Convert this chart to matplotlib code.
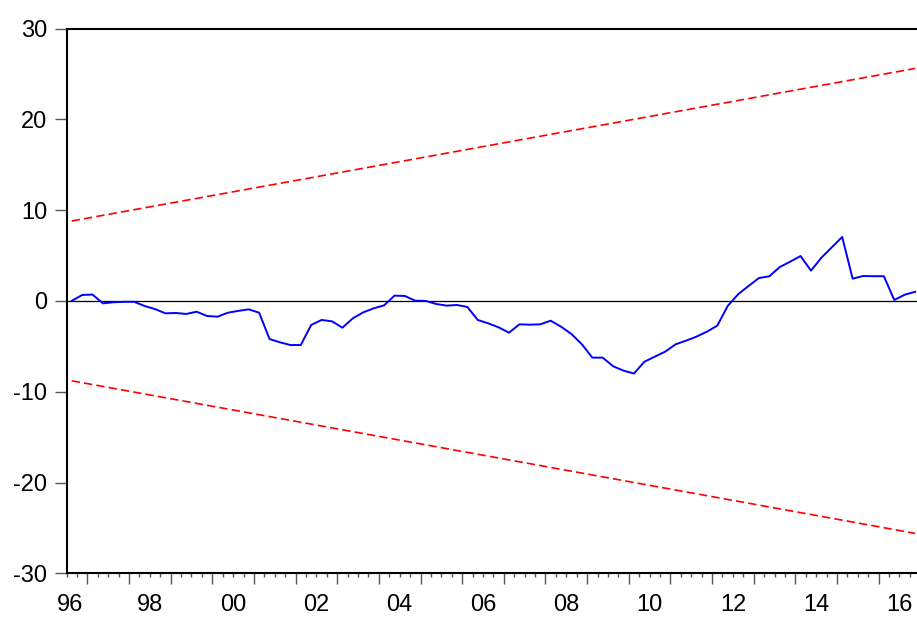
import matplotlib
matplotlib.use("Agg")
import matplotlib.pyplot as plt
import numpy as np
import pandas as pd

plt.rcParams["font.family"] = ["Liberation Sans", "DejaVu Sans"]
plt.rcParams["axes.unicode_minus"] = False

# Quarterly sample of the recursive CUSUM statistic
start_quarter = "1996Q3"
end_quarter = "2016Q4"
cusum = [
    0.0, 0.65, 0.7, -0.27, -0.15, -0.1, -0.1, -0.56, -0.9, -1.37,
    -1.33, -1.44, -1.19, -1.66, -1.74, -1.3, -1.1, -0.93, -1.3, -4.2,
    -4.56, -4.86, -4.86, -2.65, -2.1, -2.25, -2.95, -1.92, -1.26, -0.82,
    -0.49, 0.58, 0.54, 0.02, 0.0, -0.34, -0.52, -0.45, -0.67, -2.1,
    -2.47, -2.91, -3.5, -2.58, -2.62, -2.58, -2.18, -2.84, -3.65, -4.78,
    -6.25, -6.25, -7.2, -7.68, -8.0, -6.7, -6.14, -5.59, -4.78, -4.38,
    -3.94, -3.39, -2.73, -0.56, 0.73, 1.64, 2.52, 2.71, 3.73, 4.32,
    4.94, 3.33, 4.76, 5.9, 7.04, 2.45, 2.74, 2.72, 2.72, 0.1,
    0.68, 1.0,
]
# 5% significance bounds at the first and last observation
upper_bound = [8.8, 25.6]
lower_bound = [-8.8, -25.6]

y_ticks = [-30, -20, -10, 0, 10, 20, 30]
year_labels = ["96", "98", "00", "02", "04", "06", "08", "10", "12", "14", "16"]

periods = pd.period_range(start_quarter, end_quarter, freq="Q")
x = np.array([p.year + (p.quarter - 1) / 4 + 0.125 for p in periods])
x0 = periods[0].year + (periods[0].quarter - 1) / 4
x1 = periods[-1].year + periods[-1].quarter / 4

fig = plt.figure(figsize=(9.17, 6.17), dpi=100)
ax = fig.add_axes([66.5 / 917, 43.7 / 617, 853.8 / 917, 544.8 / 617])

ax.axhline(0, color="black", lw=0.9, zorder=1)
ax.plot(x, cusum, color="#0000ff", lw=1.4, zorder=3)
ends = [x[0], x[-1]]
ax.plot(ends, upper_bound, color="#ff0000", lw=1.2, dashes=(5, 2.5), zorder=2)
ax.plot(ends, lower_bound, color="#ff0000", lw=1.2, dashes=(5, 2.5), zorder=2)

ax.set_xlim(x0, x1)
ax.set_ylim(-30, 30)

for side in ["left", "top", "bottom"]:
    ax.spines[side].set_linewidth(1.5)
    ax.spines[side].set_color("black")
ax.spines["right"].set_visible(False)

ax.set_yticks(y_ticks)
ax.set_yticklabels([str(v) for v in y_ticks])
ax.tick_params(axis="y", direction="out", length=9, width=1.0, color="#555555",
               labelsize=17, pad=5)

# year boundaries as long ticks, quarters as short ticks
ax.set_xticks(np.arange(1997, 2017, 1))
ax.set_xticks(np.arange(x0, x1 + 0.01, 0.25), minor=True)
ax.tick_params(axis="x", which="major", direction="out", length=8, width=1.0,
               color="#555555", labelbottom=False)
ax.tick_params(axis="x", which="minor", direction="out", length=3, width=1.0,
               color="#555555")

# year labels centred on even years
label_years = [1996 + 2 * i for i in range(len(year_labels))]
label_pos = [y + 0.5 for y in label_years]
label_pos[0] = x0 + 0.09
sec = ax.secondary_xaxis("bottom")
sec.set_xticks(label_pos)
sec.set_xticklabels(year_labels)
sec.tick_params(axis="x", length=0, labelsize=17, pad=15)
sec.spines["bottom"].set_visible(False)

fig.savefig("out.png", dpi=100)
